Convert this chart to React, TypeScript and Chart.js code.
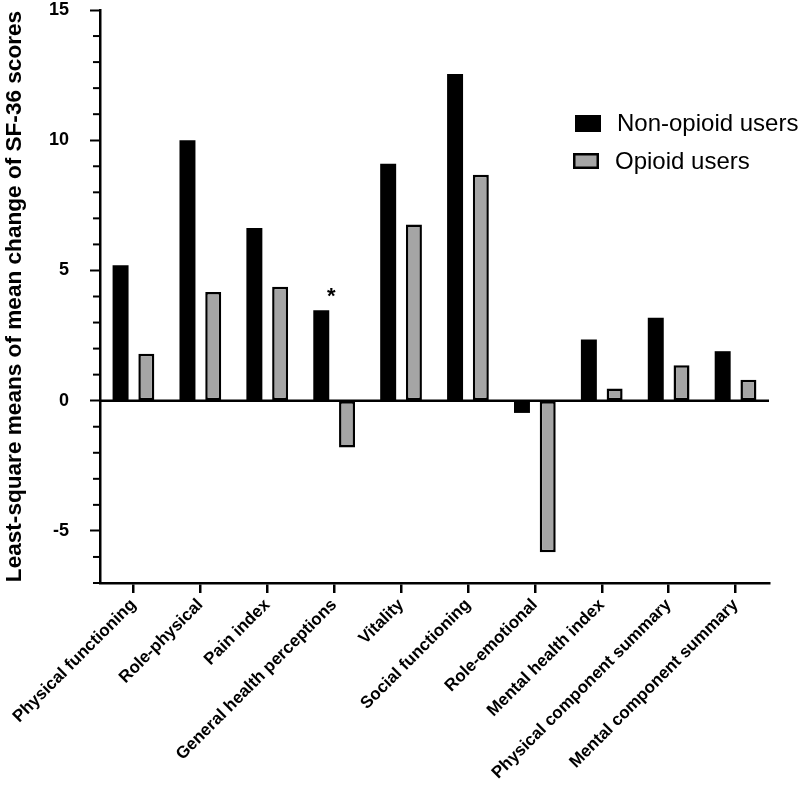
import React, { useEffect, useRef } from 'react';
import { Chart, registerables } from 'chart.js';

Chart.register(...registerables);

const categories = [
  'Physical functioning',
  'Role-physical',
  'Pain index',
  'General health perceptions',
  'Vitality',
  'Social functioning',
  'Role-emotional',
  'Mental health index',
  'Physical component summary',
  'Mental component summary',
];
const seriesLabels = ['Non-opioid users', 'Opioid users'];
const nonOpioidValues = [5.2, 10.0, 6.63, 3.47, 9.1, 12.54, -0.47, 2.35, 3.18, 1.9];
const opioidValues = [1.8, 4.17, 4.37, -1.8, 6.76, 8.67, -5.82, 0.47, 1.36, 0.8];
const significantIndices = [3];
const yMin = -7;
const yMax = 15;
const yMajorStep = 5;
const yTitle = 'Least-square means of mean change of SF-36 scores';

const FONT = "'Liberation Sans', Arial, sans-serif";
const BLACK = '#000000';
const GREY = '#a5a5a5';

const decorPlugin = {
  id: 'decor',
  afterDatasetsDraw(chart: any) {
    const { ctx, chartArea, scales } = chart;
    const y = scales.y;
    ctx.save();
    // zero line
    const y0 = y.getPixelForValue(0);
    ctx.strokeStyle = BLACK;
    ctx.lineWidth = 2.5;
    ctx.beginPath();
    ctx.moveTo(chartArea.left, y0);
    ctx.lineTo(chartArea.right, y0);
    ctx.stroke();
    // minor y ticks
    ctx.lineWidth = 2;
    for (let v = yMin; v <= yMax; v++) {
      if (v % yMajorStep === 0) continue;
      const py = y.getPixelForValue(v);
      ctx.beginPath();
      ctx.moveTo(chartArea.left - 7, py);
      ctx.lineTo(chartArea.left, py);
      ctx.stroke();
    }
    // significance asterisks
    const meta = chart.getDatasetMeta(0);
    ctx.fillStyle = BLACK;
    ctx.font = `bold 22px ${FONT}`;
    ctx.textAlign = 'center';
    ctx.textBaseline = 'middle';
    significantIndices.forEach((i) => {
      const el = meta.data[i];
      ctx.fillText('*', el.x + 10, el.y - 13);
    });
    // legend
    const lx = chartArea.right - 194;
    const ly = chartArea.top + 105;
    ctx.fillStyle = BLACK;
    ctx.fillRect(lx, ly, 26, 17);
    ctx.fillStyle = GREY;
    ctx.fillRect(lx - 2, ly + 38, 26, 16);
    ctx.strokeStyle = BLACK;
    ctx.lineWidth = 2.5;
    ctx.strokeRect(lx - 2 + 1.25, ly + 38 + 1.25, 26 - 2.5, 16 - 2.5);
    ctx.fillStyle = BLACK;
    ctx.font = `24px ${FONT}`;
    ctx.textAlign = 'left';
    ctx.textBaseline = 'middle';
    ctx.fillText(seriesLabels[0], lx + 42, ly + 9);
    ctx.fillText(seriesLabels[1], lx + 40, ly + 47);
    ctx.restore();
  },
};

export default function App() {
  const ref = useRef<HTMLCanvasElement | null>(null);
  useEffect(() => {
    if (!ref.current) return;
    const chart = new Chart(ref.current, {
      type: 'bar',
      data: {
        labels: categories,
        datasets: [
          {
            label: seriesLabels[0],
            data: nonOpioidValues,
            backgroundColor: BLACK,
            borderColor: BLACK,
            borderWidth: 0,
            categoryPercentage: 0.77,
            barPercentage: 0.62,
          },
          {
            label: seriesLabels[1],
            data: opioidValues,
            backgroundColor: GREY,
            borderColor: BLACK,
            borderWidth: 2.5,
            borderSkipped: false,
            categoryPercentage: 0.77,
            barPercentage: 0.62,
          },
        ],
      },
      options: {
        responsive: false,
        animation: false,
        layout: { padding: { top: 10, right: 31, left: 0, bottom: 0 } },
        plugins: {
          legend: { display: false },
          tooltip: { enabled: false },
        },
        scales: {
          x: {
            offset: true,
            grid: {
              offset: false,
              drawOnChartArea: false,
              drawTicks: true,
              tickLength: 10,
              tickColor: BLACK,
              tickWidth: 2.5,
              lineWidth: 2.5,
              color: BLACK,
            },
            border: { display: true, color: BLACK, width: 2.5 },
            ticks: {
              autoSkip: false,
              maxRotation: 45,
              minRotation: 45,
              color: BLACK,
              font: { family: FONT, size: 17, weight: 'bold' },
              padding: 2,
            },
            afterFit: (scale: any) => {
              scale.height = 210;
              scale.paddingLeft = 0;
              scale.paddingRight = 0;
              scale.paddingTop = 0;
              scale.paddingBottom = 0;
            },
          },
          y: {
            min: yMin,
            max: yMax,
            grid: {
              drawOnChartArea: false,
              drawTicks: true,
              tickLength: 10,
              tickWidth: 2,
              tickColor: (c: any) => (c.tick && c.tick.value % yMajorStep === 0 ? BLACK : 'rgba(0,0,0,0)'),
              color: BLACK,
            },
            border: { display: true, color: BLACK, width: 2.5 },
            ticks: {
              stepSize: 1,
              autoSkip: false,
              color: BLACK,
              padding: 21,
              font: { family: FONT, size: 18, weight: 'bold' },
              callback: (v: any) => (Number(v) % yMajorStep === 0 ? String(v) : ''),
            },
            title: {
              display: true,
              text: yTitle,
              color: BLACK,
              font: { family: FONT, size: 22.6, weight: 'bold' },
              padding: { top: 1, bottom: 0 },
            },
            afterFit: (scale: any) => {
              scale.width = 100;
              scale.paddingTop = 0;
              scale.paddingBottom = 0;
              scale.paddingLeft = 0;
              scale.paddingRight = 0;
            },
          },
        },
      },
      plugins: [decorPlugin],
    });
    return () => chart.destroy();
  }, []);
  return (
    <div style={{ position: 'absolute', left: 0, top: 0, width: 800, height: 793, background: '#fff' }}>
      <canvas ref={ref} width={800} height={793} />
    </div>
  );
}
